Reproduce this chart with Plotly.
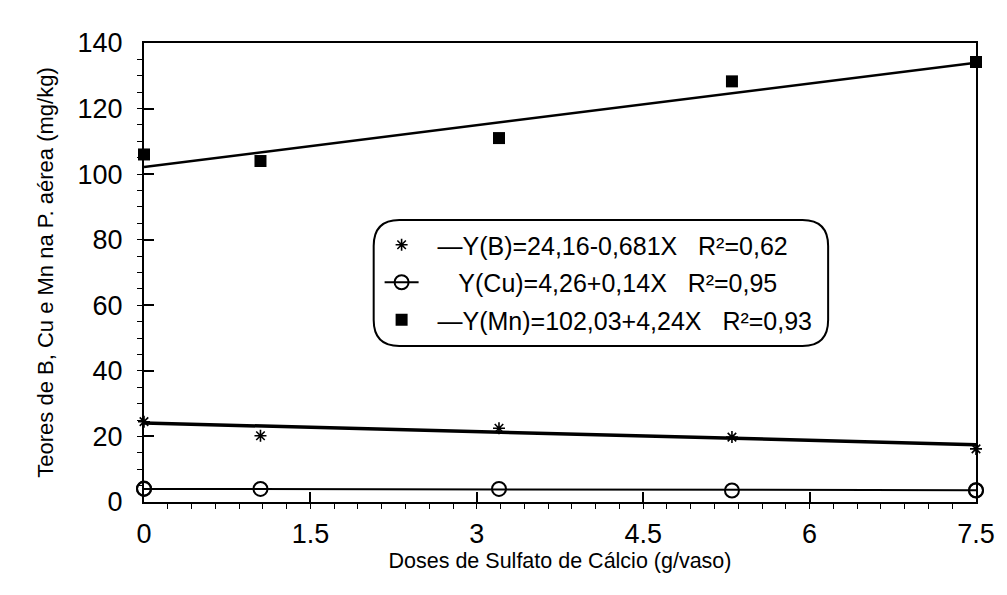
import plotly.graph_objects as go

# ---- data ----
doses = [0, 1.05, 3.2, 5.3, 7.5]
b_vals = [24.5, 20.2, 22.5, 19.8, 16.2]
cu_vals = [4.1, 4.0, 4.0, 3.5, 3.5]
mn_vals = [106, 104, 111, 128.3, 134.2]

fit_x = [0, 7.5]
b_fit = [24.1, 17.5]
cu_fit = [4.0, 3.6]
mn_fit = [102.2, 134.0]

NB = "\u00a0"
b_label = NB * 2 + "\u2014Y(B)=24,16-0,681X" + NB * 3 + "R\u00b2=0,62"
cu_label = NB * 5 + "Y(Cu)=4,26+0,14X" + NB * 3 + "R\u00b2=0,95"
mn_label = NB * 2 + "\u2014Y(Mn)=102,03+4,24X" + NB * 3 + "R\u00b2=0,93"

x_ticks = [0, 1.5, 3, 4.5, 6, 7.5]
x_tick_text = ["0", "1.5", "3", "4.5", "6", "7.5"]
y_ticks = [0, 20, 40, 60, 80, 100, 120, 140]

x_title = "Doses de Sulfato de C\u00e1lcio (g/vaso)"
y_title = "Teores de B, Cu e Mn na P. a\u00e9rea (mg/kg)"

FONT = "Liberation Sans, Arial, sans-serif"

fig = go.Figure()

# fitted lines
fig.add_trace(go.Scatter(x=fit_x, y=b_fit, mode="lines", line=dict(color="black", width=3.5),
                         showlegend=False, hoverinfo="skip"))
fig.add_trace(go.Scatter(x=fit_x, y=mn_fit, mode="lines", line=dict(color="black", width=2.5),
                         showlegend=False, hoverinfo="skip"))

# B points
fig.add_trace(go.Scatter(x=doses, y=b_vals, mode="markers", name=b_label, legendgroup="b",
                         marker=dict(symbol="asterisk-open", size=10, color="black",
                                     line=dict(color="black", width=1.6)),
                         cliponaxis=False))
# Cu fit (with circles at the ends -> legend shows line through circle)
fig.add_trace(go.Scatter(x=fit_x, y=cu_fit, mode="lines+markers", name=cu_label, legendgroup="cu",
                         line=dict(color="black", width=2),
                         marker=dict(symbol="circle-open", size=14, color="black",
                                     line=dict(color="black", width=2)),
                         cliponaxis=False))
fig.add_trace(go.Scatter(x=doses, y=cu_vals, mode="markers", showlegend=False,
                         marker=dict(symbol="circle-open", size=14, color="black",
                                     line=dict(color="black", width=2)),
                         cliponaxis=False))
# Mn points
fig.add_trace(go.Scatter(x=doses, y=mn_vals, mode="markers", name=mn_label, legendgroup="mn",
                         marker=dict(symbol="square", size=12, color="black"),
                         cliponaxis=False))

# legend box (rounded rectangle) in paper coordinates
x0, x1 = (377 - 144) / 844, (838 - 144) / 844
y0, y1 = (502 - 346) / 459, (502 - 220) / 459
rx, ry = 26 / 844, 26 / 459
path = (f"M {x0+rx},{y1} L {x1-rx},{y1} Q {x1},{y1} {x1},{y1-ry} "
        f"L {x1},{y0+ry} Q {x1},{y0} {x1-rx},{y0} L {x0+rx},{y0} "
        f"Q {x0},{y0} {x0},{y0+ry} L {x0},{y1-ry} Q {x0},{y1} {x0+rx},{y1} Z")
fig.add_shape(type="path", path=path, xref="paper", yref="paper",
              line=dict(color="black", width=2), fillcolor="rgba(0,0,0,0)")

fig.update_layout(
    width=1007, height=595,
    margin=dict(l=144, r=19, t=43, b=93),
    paper_bgcolor="white", plot_bgcolor="white",
    font=dict(family=FONT, color="black"),
    legend=dict(x=(383 - 144) / 844, y=(502 - 222) / 459, xanchor="left", yanchor="top",
                bgcolor="rgba(0,0,0,0)", font=dict(size=25, family=FONT, color="black"),
                tracegroupgap=2, itemwidth=34),
    xaxis=dict(range=[0, 7.5], tickvals=x_ticks, ticktext=x_tick_text,
               showgrid=False, zeroline=False, showline=True, linecolor="black", linewidth=2,
               mirror=True, ticks="inside", ticklen=10, tickwidth=1.5, tickcolor="black",
               tickfont=dict(size=27, family=FONT), ticklabelstandoff=7,
               minor=dict(dtick=1.5 / 7, ticks="outside", ticklen=5, tickwidth=1.2, tickcolor="black"),
               title=dict(text=x_title, font=dict(size=21.5, family=FONT), standoff=0)),
    yaxis=dict(range=[0, 140], tickvals=y_ticks,
               showgrid=False, zeroline=False, showline=True, linecolor="black", linewidth=2,
               mirror=True, ticks="inside", ticklen=10, tickwidth=1.5, tickcolor="black",
               tickfont=dict(size=27, family=FONT), ticklabelstandoff=14,
               minor=dict(dtick=5, ticks="outside", ticklen=5, tickwidth=1.2, tickcolor="black"),
               title=dict(text=y_title, font=dict(size=22, family=FONT), standoff=18)),
)

fig.write_html("out.html")
